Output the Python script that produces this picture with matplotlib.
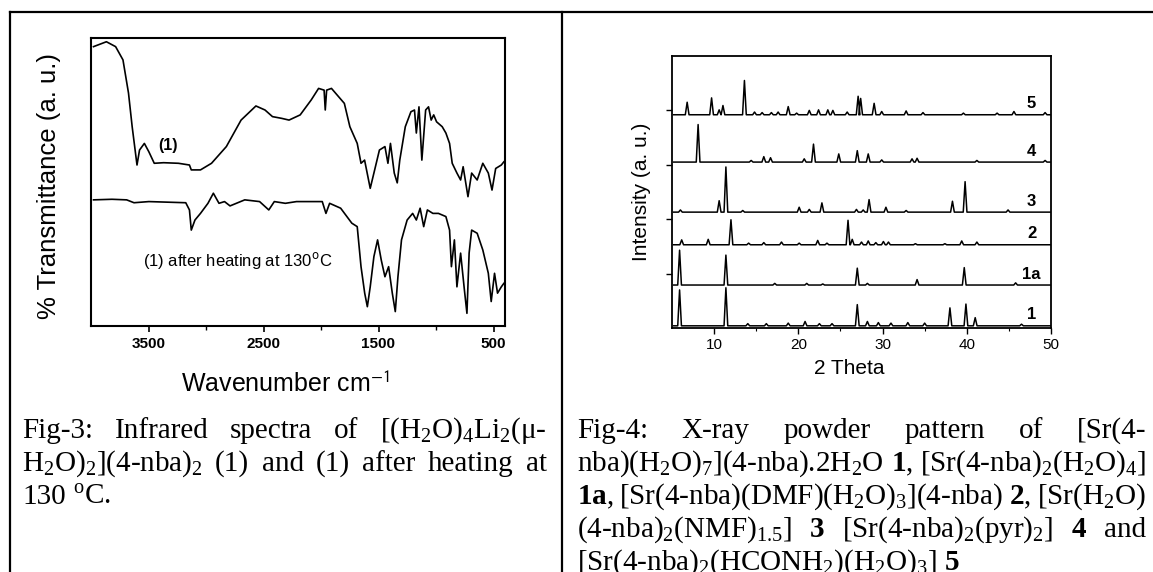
import matplotlib
matplotlib.use("Agg")
import matplotlib.pyplot as plt
from matplotlib.lines import Line2D

plt.rcParams['font.family'] = ['Liberation Sans', 'DejaVu Sans']
plt.rcParams['mathtext.fontset'] = 'custom'
plt.rcParams['mathtext.rm'] = 'Liberation Serif'
plt.rcParams['mathtext.it'] = 'Liberation Serif:italic'
plt.rcParams['mathtext.bf'] = 'Liberation Serif:bold'

W, H = 1153, 572

# ---- IR spectra ----
ir_wn_1 = [3978, 3866, 3786, 3722, 3674, 3642, 3600, 3578, 3536, 3497, 3450, 3369, 3240, 3144,
           3128, 3048, 2952, 2823, 2695, 2566, 2487, 2422, 2342, 2278, 2181, 2085, 2021, 1973,
           1963, 1951, 1909, 1797, 1749, 1685, 1652, 1621, 1572, 1540, 1492, 1444, 1418, 1396,
           1363, 1337, 1315, 1267, 1218, 1187, 1171, 1148, 1123, 1090, 1065, 1042, 1020, 995,
           946, 914, 882, 859, 818, 786, 764, 722, 690, 642, 593, 545, 513, 481, 432, 410]
ir_t_1 = [97.0, 98.7, 97.0, 92.4, 80.9, 69.2, 55.9, 61.1, 63.4, 60.5, 56.5, 56.7, 56.5, 55.9,
          54.2, 54.2, 56.5, 62.3, 71.5, 76.4, 75.0, 72.7, 72.1, 71.5, 73.3, 78.5, 82.5, 81.9,
          75.0, 81.9, 82.5, 77.3, 69.2, 63.4, 56.5, 57.6, 47.8, 53.1, 61.1, 62.3, 56.5, 63.4,
          53.1, 49.7, 57.6, 69.2, 74.4, 75.0, 67.0, 76.1, 57.6, 75.0, 76.1, 71.5, 73.3, 70.9,
          69.2, 67.0, 63.4, 56.5, 53.1, 50.7, 55.3, 44.9, 53.1, 50.7, 56.5, 53.1, 47.2, 54.7,
          55.9, 57.0]

ir_wn_2 = [3978, 3818, 3690, 3626, 3497, 3176, 3144, 3128, 3096, 3048, 2983, 2936, 2887, 2839,
           2791, 2663, 2534, 2454, 2406, 2310, 2213, 1989, 1957, 1925, 1829, 1732, 1685, 1652,
           1620, 1597, 1572, 1540, 1508, 1476, 1444, 1412, 1380, 1354, 1331, 1300, 1251, 1203,
           1171, 1138, 1107, 1075, 1027, 979, 914, 882, 866, 840, 818, 786, 753, 731, 712, 690,
           642, 593, 545, 520, 491, 465, 432, 410]
ir_t_2 = [43.8, 44.0, 43.8, 42.8, 43.2, 42.8, 40.3, 33.3, 36.8, 39.1, 42.6, 46.1, 42.6, 43.2,
          41.7, 43.8, 43.2, 40.3, 43.2, 42.6, 43.2, 43.2, 39.1, 42.6, 40.9, 35.7, 34.5, 20.6,
          11.4, 6.7, 13.6, 24.1, 29.9, 22.9, 17.1, 20.6, 11.4, 5.0, 17.1, 29.9, 36.8, 39.1,
          36.8, 40.9, 34.5, 40.3, 39.1, 39.1, 38.0, 33.3, 20.6, 29.9, 13.6, 25.3, 12.5, 4.4,
          25.3, 33.3, 32.2, 26.4, 18.3, 8.5, 18.3, 11.4, 13.6, 14.8]

ir_major = [3500, 2500, 1500, 500]
ir_minor = [3000, 2000, 1000]

# ---- XRD patterns: peak positions (2 theta) and heights (a.u.) ----
xrd_labels = ['1', '1a', '2', '3', '4', '5']
xrd_base = [0.04, 0.79, 1.53, 2.13, 3.05, 3.92]

pos_1 = [5.9, 11.4, 14.0, 16.2, 18.8, 20.8, 22.5, 24.0, 27.0, 28.2, 29.5, 31.0, 33.0, 35.0, 38.0, 39.9, 41.0, 46.5]
h_1 = [0.66, 0.70, 0.04, 0.04, 0.05, 0.08, 0.04, 0.04, 0.39, 0.08, 0.06, 0.05, 0.06, 0.05, 0.33, 0.40, 0.15, 0.03]
pos_1a = [5.9, 11.4, 17.2, 21.0, 22.9, 27.0, 28.2, 34.1, 39.7, 45.8]
h_1a = [0.64, 0.55, 0.03, 0.03, 0.02, 0.31, 0.03, 0.10, 0.32, 0.04]
pos_2 = [6.15, 9.3, 12.0, 14.1, 15.9, 18.0, 20.1, 22.3, 23.4, 25.9, 26.4, 27.5, 28.3, 29.2,
         30.1, 30.7, 33.9, 37.4, 39.4, 41.2]
h_2 = [0.09, 0.10, 0.46, 0.03, 0.04, 0.05, 0.03, 0.08, 0.03, 0.45, 0.10, 0.05, 0.07, 0.04,
       0.06, 0.05, 0.02, 0.02, 0.07, 0.05]
pos_3 = [6.0, 10.6, 11.4, 13.4, 20.1, 21.3, 22.8, 26.9, 27.7, 28.4, 30.4, 32.8, 38.3, 39.8, 44.9]
h_3 = [0.04, 0.21, 0.83, 0.03, 0.09, 0.05, 0.17, 0.05, 0.04, 0.23, 0.09, 0.03, 0.20, 0.56, 0.04]
pos_4 = [8.1, 14.4, 15.9, 16.7, 20.7, 21.8, 24.8, 27.0, 28.3, 29.9, 33.5, 34.1, 41.2, 49.3]
h_4 = [0.69, 0.03, 0.10, 0.08, 0.06, 0.33, 0.15, 0.21, 0.15, 0.04, 0.06, 0.07, 0.03, 0.03]
pos_5 = [6.8, 9.7, 10.6, 11.05, 13.6, 14.8, 15.7, 16.8, 17.6, 18.8, 19.8, 21.3, 22.4, 23.5,
         24.1, 25.8, 27.1, 27.4, 29.0, 29.9, 32.8, 34.8, 39.6, 43.6, 45.6, 49.3]
h_5 = [0.23, 0.31, 0.09, 0.17, 0.63, 0.05, 0.04, 0.04, 0.05, 0.15, 0.03, 0.08, 0.09, 0.09,
       0.08, 0.05, 0.34, 0.30, 0.21, 0.06, 0.07, 0.04, 0.03, 0.03, 0.06, 0.04]
xrd_pos = [pos_1, pos_1a, pos_2, pos_3, pos_4, pos_5]
xrd_h = [h_1, h_1a, h_2, h_3, h_4, h_5]


def stick_trace(pos, h, base, w=0.22):
    xs, ys = [5.2], [base]
    for p, hh in sorted(zip(pos, h)):
        xs += [p - w, p, p + w]
        ys += [base, base + hh, base]
    xs.append(50)
    ys.append(base)
    return xs, ys


fig = plt.figure(figsize=(W / 100, H / 100), dpi=100)

# table frame
lw_frame = 1.6
fig.add_artist(Line2D([10 / W, 1], [1 - 12 / H, 1 - 12 / H], color='k', lw=lw_frame))
fig.add_artist(Line2D([10 / W, 10 / W], [0, 1 - 12 / H], color='k', lw=lw_frame))
fig.add_artist(Line2D([562 / W, 562 / W], [0, 1 - 12 / H], color='k', lw=lw_frame))

# ---- left: IR ----
ax1 = fig.add_axes([91 / W, 1 - 326 / H, 414 / W, 288 / H])
ax1.plot(ir_wn_1, ir_t_1, color='k', lw=1.2)
ax1.plot(ir_wn_2, ir_t_2, color='k', lw=1.2)
ax1.set_xlim(4000, 400)
ax1.set_ylim(0, 100)
ax1.set_yticks([])
ax1.set_xticks(ir_major)
ax1.set_xticks(ir_minor, minor=True)
ax1.tick_params(axis='x', which='major', direction='out', length=4, width=1.2, pad=4, labelsize=11)
ax1.tick_params(axis='x', which='minor', direction='out', length=3, width=1.0)
for lab in ax1.get_xticklabels():
    lab.set_fontweight('bold')
for s in ax1.spines.values():
    s.set_linewidth(1.5)
ax1.set_xlabel('Wavenumber cm$^{\\mathsf{-1}}$', fontsize=18, math_fontfamily='stixsans')
ax1.xaxis.set_label_coords(0.47, -0.16)
ax1.set_ylabel('% Transmittance (a. u.)', fontsize=18.5)
ax1.yaxis.set_label_coords(-0.072, 0.486)
ax1.text(3332, 62.8, '(1)', fontsize=11.5, fontweight='bold', ha='center', va='center')
ax1.text(3545, 22.9, '(1) after heating at 130$^{\\rm o}$C', fontsize=12, ha='left', va='center',
         math_fontfamily='dejavusans')

# ---- right: XRD ----
ax2 = fig.add_axes([672 / W, 1 - 328 / H, 379 / W, 272 / H])
for lab, base, pos, h in zip(xrd_labels, xrd_base, xrd_pos, xrd_h):
    xs, ys = stick_trace(pos, h, base)
    ax2.plot(xs, ys, color='k', lw=1.1)
    ax2.text(47.7, base + 0.2, lab, fontsize=12, fontweight='bold', ha='center', va='center')
ax2.set_xlim(5, 50)
ax2.set_ylim(0, 5)
ax2.set_xticks([10, 20, 30, 40, 50])
ax2.set_xticks([15, 25, 35, 45], minor=True)
ax2.set_yticks([1, 2, 3, 4])
ax2.set_yticklabels([])
ax2.tick_params(axis='both', which='major', direction='out', length=4, width=1.0, pad=3, labelsize=11)
ax2.tick_params(axis='x', which='minor', direction='out', length=2.5, width=0.8)
for s in ax2.spines.values():
    s.set_linewidth(1.3)
ax2.set_xlabel('2 Theta', fontsize=15)
ax2.xaxis.set_label_coords(0.467, -0.115)
ax2.set_ylabel('Intensity (a. u.)', fontsize=15)
ax2.yaxis.set_label_coords(-0.055, 0.5)

# ---- captions (justified like the document) ----
CAP_FS = 21
renderer = fig.canvas.get_renderer()


def caption_line(words, x0, x1, y, justify=True):
    texts = [fig.text(0, 0, w, fontsize=CAP_FS, family='Liberation Serif',
                      ha='left', va='baseline') for w in words]
    widths = [t.get_window_extent(renderer).width for t in texts]
    if justify and len(words) > 1:
        gap = (x1 - x0 - sum(widths)) / (len(words) - 1)
    else:
        gap = CAP_FS * 100 / 72 * 0.25
    x = x0
    for t, w in zip(texts, widths):
        t.set_position((x / W, 1 - y / H))
        x += w + gap


cap3 = [
    ['Fig-3:', 'Infrared', 'spectra', 'of', '[(H$_2$O)$_4$Li$_2$(μ-'],
    ['H$_2$O)$_2$](4-nba)$_2$', '(1)', 'and', '(1)', 'after', 'heating', 'at'],
    ['130', '$^{\\rm o}$C.'],
]
cap4 = [
    ['Fig-4:', 'X-ray', 'powder', 'pattern', 'of', '[Sr(4-'],
    ['nba)(H$_2$O)$_7$](4-nba).2H$_2$O', '$\\mathbf{1}$,', '[Sr(4-nba)$_2$(H$_2$O)$_4$]'],
    ['$\\mathbf{1a}$,', '[Sr(4-nba)(DMF)(H$_2$O)$_3$](4-nba)', '$\\mathbf{2}$,', '[Sr(H$_2$O)'],
    ['(4-nba)$_2$(NMF)$_{1.5}$]', '$\\mathbf{3}$', '[Sr(4-nba)$_2$(pyr)$_2$]', '$\\mathbf{4}$', 'and'],
    ['[Sr(4-nba)$_2$(HCONH$_2$)(H$_2$O)$_3$]', '$\\mathbf{5}$'],
]
line_y = [438, 471, 504, 537, 570]
for i, words in enumerate(cap3):
    caption_line(words, 22, 547, line_y[i], justify=(i < len(cap3) - 1))
for i, words in enumerate(cap4):
    caption_line(words, 577, 1146, line_y[i], justify=(i < len(cap4) - 1))

fig.savefig('out.png', dpi=100)
